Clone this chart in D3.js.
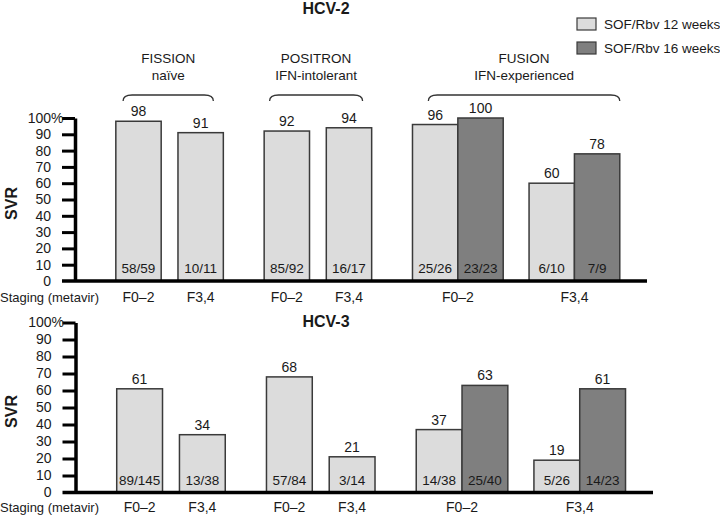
<!DOCTYPE html>
<html>
<head>
<meta charset="utf-8">
<script src="https://cdn.jsdelivr.net/npm/d3@7"></script>
<style>
  html, body { margin: 0; padding: 0; background: #fff; }
  svg { display: block; font-family: "Liberation Sans", Arial, Helvetica, sans-serif; }
</style>
</head>
<body>
<svg id="chart" width="720" height="517"></svg>
<script>
// ---------------- DATA ----------------
const studies = ["FISSION", "POSITRON", "FUSION"];
const studySubtitles = ["naïve", "IFN-intolerant", "IFN-experienced"];
const stages = ["F0–2", "F3,4"];
const seriesNames = ["SOF/Rbv 12 weeks", "SOF/Rbv 16 weeks"];
const yTicks = [0, 10, 20, 30, 40, 50, 60, 70, 80, 90, 100];
const stagingLabel = "Staging (metavir)";
const yLabel = "SVR";
const panelTitles = ["HCV-2", "HCV-3"];

// order: FISSION F0–2, FISSION F3,4, POSITRON F0–2, POSITRON F3,4, FUSION F0–2, FUSION F3,4
const hcv2Week12 = [98, 91, 92, 94, 96, 60];
const hcv2Week12N = ["58/59", "10/11", "85/92", "16/17", "25/26", "6/10"];
const hcv2Week16 = [null, null, null, null, 100, 78];
const hcv2Week16N = [null, null, null, null, "23/23", "7/9"];

const hcv3Week12 = [61, 34, 68, 21, 37, 19];
const hcv3Week12N = ["89/145", "13/38", "57/84", "3/14", "14/38", "5/26"];
const hcv3Week16 = [null, null, null, null, 63, 61];
const hcv3Week16N = [null, null, null, null, "25/40", "14/23"];

// ---------------- LAYOUT / STYLE ----------------
const FONT = 14;
const TICK_FONT = 14;
const colors = ["#dcdcdc", "#7f7f7f"];
const barStroke = "#3a3a3a";
const textColor = "#1a1a1a";
// gaps in bar-width units
const leadGap = 0.9, studyGap = 0.9, endGap = 0.6;
const innerGap = [0.37, 0.37, 0.57];
const bracketInset = [[0.16, 0.22], [0.12, 0.2], [0.35, 0.0]];

const panels = [
  { title: panelTitles[0], w12: hcv2Week12, n12: hcv2Week12N, w16: hcv2Week16, n16: hcv2Week16N,
    axisX: 75, endX: 647, y0: 281, y100: 118, titleY: 14, stagingY: 302, zeroDy: "0.3em" },
  { title: panelTitles[1], w12: hcv3Week12, n12: hcv3Week12N, w16: hcv3Week16, n16: hcv3Week16N,
    axisX: 75.5, endX: 653, y0: 492.5, y100: 322.5, titleY: 327, stagingY: 512, zeroDy: "0.3em" }
];

// build group slots in units
function buildSlots(p) {
  const groups = [];
  let u = leadGap;
  studies.forEach((s, si) => {
    stages.forEach((st, ti) => {
      const gi = si * stages.length + ti;
      const vals = [p.w12[gi], p.w16[gi]];
      const ns = [p.n12[gi], p.n16[gi]];
      const bars = [];
      vals.forEach((v, k) => { if (v !== null) bars.push({ value: v, n: ns[k], series: k }); });
      groups.push({ study: si, stage: st, start: u, bars });
      u += bars.length;
      if (ti < stages.length - 1) u += innerGap[si];
    });
    if (si < studies.length - 1) u += studyGap;
  });
  u += endGap;
  return { groups, total: u };
}

const svg = d3.select("#chart");

panels.forEach((p, pi) => {
  const { groups, total } = buildSlots(p);
  const x = d3.scaleLinear().domain([0, total]).range([p.axisX, p.endX]);
  const y = d3.scaleLinear().domain([0, 100]).range([p.y0, p.y100]);
  const g = svg.append("g");

  // Title
  g.append("text").attr("x", 326).attr("y", p.titleY).attr("text-anchor", "middle")
    .attr("font-size", 16).attr("font-weight", "bold").attr("fill", textColor).text(p.title);

  // Bars
  groups.forEach(gr => {
    gr.bars.forEach((b, k) => {
      const x0 = x(gr.start + k), x1 = x(gr.start + k + 1);
      g.append("rect").attr("x", x0).attr("y", y(b.value))
        .attr("width", x1 - x0).attr("height", y(0) - y(b.value))
        .attr("fill", colors[b.series]).attr("stroke", barStroke).attr("stroke-width", 1.5);
      g.append("text").attr("x", (x0 + x1) / 2).attr("y", y(b.value) - 5)
        .attr("text-anchor", "middle").attr("font-size", FONT).attr("fill", textColor).text(b.value);
      g.append("text").attr("x", (x0 + x1) / 2).attr("y", y(0) - 8)
        .attr("text-anchor", "middle").attr("font-size", 13.5).attr("fill", textColor).text(b.n);
    });
    // stage label
    const cx = x(gr.start + gr.bars.length / 2);
    g.append("text").attr("x", cx).attr("y", p.stagingY).attr("text-anchor", "middle")
      .attr("font-size", FONT).attr("fill", textColor).text(gr.stage);
  });

  // Staging label
  g.append("text").attr("x", 0).attr("y", p.stagingY).attr("font-size", 13)
    .attr("fill", textColor).text(stagingLabel);

  // Y axis
  const axis = d3.axisLeft(y).tickValues(yTicks).tickSize(13).tickSizeOuter(0).tickPadding(11)
    .tickFormat(d => d);
  const ag = g.append("g").attr("transform", `translate(${p.axisX},0)`).call(axis);
  ag.select(".domain").attr("stroke", "#000").attr("stroke-width", 3.5);
  ag.selectAll(".tick line").attr("stroke", "#000").attr("stroke-width", 3);
  ag.selectAll(".tick text").attr("font-size", TICK_FONT).attr("fill", textColor)
    .attr("font-family", "Liberation Sans, Arial, sans-serif");
  ag.selectAll(".tick").filter(d => d === 0).select("line").remove();
  ag.selectAll(".tick").filter(d => d === 0).select("text").attr("dy", p.zeroDy);
  ag.selectAll(".tick").filter(d => d === 100).append("text")
    .attr("x", -24).attr("dy", "0.32em").attr("text-anchor", "start")
    .attr("font-size", TICK_FONT).attr("fill", textColor).text("%");
  // baseline
  g.append("line").attr("x1", p.axisX - 13).attr("x2", p.endX).attr("y1", y(0)).attr("y2", y(0))
    .attr("stroke", "#000").attr("stroke-width", 3.5);

  // Y label
  g.append("text").attr("transform", `translate(17,${(y(0) + y(100)) / 2 + 4}) rotate(-90)`)
    .attr("text-anchor", "middle").attr("font-size", 16).attr("font-weight", "bold")
    .attr("fill", textColor).text(yLabel);

  // Brackets + study labels (top panel only)
  if (pi === 0) {
    studies.forEach((s, si) => {
      const gs = groups.filter(gr => gr.study === si);
      const first = gs[0], last = gs[gs.length - 1];
      const bx0 = x(first.start + bracketInset[si][0]);
      const bx1 = x(last.start + last.bars.length - bracketInset[si][1]);
      const by = 95, bd = 6, r = 9;
      g.append("path")
        .attr("d", `M${bx0},${by + bd} Q${bx0},${by} ${bx0 + r},${by} L${bx1 - r},${by} Q${bx1},${by} ${bx1},${by + bd}`)
        .attr("fill", "none").attr("stroke", "#333").attr("stroke-width", 1.3);
      const cx = (bx0 + bx1) / 2;
      g.append("text").attr("x", cx).attr("y", 63).attr("text-anchor", "middle")
        .attr("font-size", 13.5).attr("fill", textColor).text(s);
      g.append("text").attr("x", cx).attr("y", 80).attr("text-anchor", "middle")
        .attr("font-size", 13.5).attr("fill", textColor).text(studySubtitles[si]);
    });
  }
});

// Legend
const legend = svg.append("g");
seriesNames.forEach((name, i) => {
  const ly = 18 + i * 24;
  legend.append("rect").attr("x", 577).attr("y", ly).attr("width", 19).attr("height", 12)
    .attr("fill", colors[i]).attr("stroke", barStroke).attr("stroke-width", 1.2);
  legend.append("text").attr("x", 604).attr("y", ly + 11).attr("font-size", 13.5)
    .attr("fill", textColor).text(name);
});
</script>
</body>
</html>
